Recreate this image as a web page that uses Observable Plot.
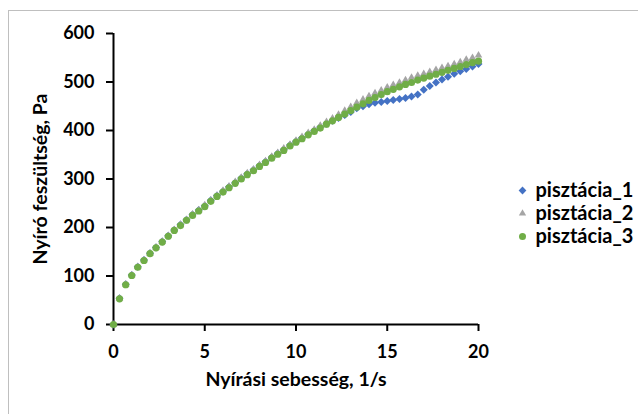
<!DOCTYPE html>
<html>
<head>
<meta charset="utf-8">
<script src="https://cdn.jsdelivr.net/npm/d3@7"></script>
<script src="https://cdn.jsdelivr.net/npm/@observablehq/plot@0.6"></script>
<style>
  html, body { margin: 0; padding: 0; background: #fff; }
  #wrap { position: relative; width: 638px; height: 414px; overflow: hidden; }
  #frame { position: absolute; left: 8px; top: 10px; width: 640px; height: 420px; border: 1px solid #BFBFBF; box-sizing: border-box; pointer-events: none; }
  #chart { position: absolute; left: 0; top: 0; }
  #legend { position: absolute; left: 510px; top: 160px; }
</style>
</head>
<body>
<div id="wrap">
  <div id="chart"></div>
  <div id="legend"></div>
  <div id="frame"></div>
</div>
<script>
// Shear rate, 1/s (shared by all three series)
const shearRate = [
  0, 0.33, 0.67, 1, 1.33, 1.67, 2, 2.33, 2.67, 3, 3.33, 3.67, 4, 4.33, 4.67, 5,
  5.33, 5.67, 6, 6.33, 6.67, 7, 7.33, 7.67, 8, 8.33, 8.67, 9, 9.33, 9.67, 10,
  10.33, 10.67, 11, 11.33, 11.67, 12, 12.33, 12.67, 13, 13.33, 13.67, 14, 14.33, 14.67, 15,
  15.33, 15.67, 16, 16.33, 16.67, 17, 17.33, 17.67, 18, 18.33, 18.67, 19, 19.33, 19.67, 20
];
// Shear stress, Pa
const pisztacia1 = [
  0, 54, 83, 102, 119, 133, 147, 159, 171, 183, 195, 206, 216, 227, 236, 245,
  256, 266, 275, 284, 293, 302, 311, 319, 328, 336, 345, 353, 361, 370, 378,
  385, 393, 400, 407, 414, 420, 426, 432, 438, 446, 450, 454, 457, 459, 461,
  463, 465, 467, 470, 474, 484, 492, 499, 505, 511, 517, 522, 527, 532, 537
];
const pisztacia2 = [
  0, 54, 83, 102, 119, 133, 147, 159, 171, 183, 195, 206, 216, 227, 236, 246,
  256, 266, 276, 285, 294, 303, 312, 320, 329, 337, 346, 354, 363, 371, 379,
  387, 395, 402, 410, 418, 425, 433, 441, 449, 457, 464, 471, 477, 483, 489,
  494, 499, 504, 509, 513, 517, 521, 525, 529, 533, 537, 541, 546, 550, 555
];
const pisztacia3 = [
  0, 53, 82, 101, 118, 132, 146, 158, 170, 182, 194, 204, 215, 225, 234, 243,
  254, 264, 273, 282, 291, 300, 309, 317, 326, 334, 343, 351, 359, 368, 376,
  383, 391, 398, 405, 413, 420, 427, 434, 441, 448, 455, 462, 468, 474, 480,
  485, 490, 495, 499, 504, 508, 512, 516, 520, 524, 528, 532, 536, 540, 543
];
const seriesNames = ["pisztácia_1", "pisztácia_2", "pisztácia_3"];
const seriesColors = ["#4472C4", "#A5A5A5", "#70AD47"];
const seriesSymbols = ["diamond2", "triangle2", "circle"];
const xTicks = [0, 5, 10, 15, 20];
const yTicks = [0, 100, 200, 300, 400, 500, 600];
const xTitle = "Nyírási sebesség, 1/s";
const yTitle = "Nyíró feszültség, Pa";

const seriesValues = [pisztacia1, pisztacia2, pisztacia3];
const data = seriesNames.flatMap((name, s) =>
  shearRate.map((x, i) => ({ series: name, x, y: seriesValues[s][i] }))
);

const FONT = "Lato, 'Open Sans', sans-serif";

const chart = Plot.plot({
  width: 638,
  height: 414,
  marginLeft: 113,
  marginRight: 160,
  marginTop: 33,
  marginBottom: 90,
  style: { fontFamily: FONT, fontWeight: "bold", fontSize: "18px", color: "#000", background: "transparent", overflow: "visible" },
  x: { domain: [0, 20] },
  y: { domain: [0, 600] },
  symbol: { domain: seriesNames, range: seriesSymbols },
  color: { domain: seriesNames, range: seriesColors },
  marks: [
    Plot.axisX({ ticks: xTicks, tickSize: 7, tickPadding: 14, strokeWidth: 2, label: null, tickFormat: d3.format("d"), fontSize: 18, fontWeight: "bold" }),
    Plot.axisY({ ticks: yTicks, tickSize: 7, tickPadding: 12, strokeWidth: 2, label: null, tickFormat: d3.format("d"), fontSize: 18, fontWeight: "bold" }),
    Plot.ruleX([0], { strokeWidth: 2, stroke: "#000" }),
    Plot.ruleY([0], { strokeWidth: 2, stroke: "#000" }),
    Plot.dot(data, { x: "x", y: "y", symbol: "series", fill: "series", r: 3.6, stroke: "none" }),
    Plot.text([xTitle], { frameAnchor: "bottom", dy: 61, fontSize: 19.5, fontWeight: "bold" }),
    Plot.text([yTitle], { frameAnchor: "left", dx: -73, rotate: -90, textAnchor: "middle", lineAnchor: "middle", fontSize: 19.5, fontWeight: "bold" })
  ]
});
document.getElementById("chart").appendChild(chart);

const legend = Plot.plot({
  width: 128,
  height: 110,
  margin: 0,
  style: { fontFamily: FONT, fontWeight: "bold", fontSize: "20px", color: "#000", background: "transparent", overflow: "visible" },
  x: { domain: [0, 1], range: [12, 120], axis: null },
  y: { type: "point", domain: seriesNames, range: [18, 88], axis: null },
  symbol: { domain: seriesNames, range: seriesSymbols },
  color: { domain: seriesNames, range: seriesColors },
  marks: [
    Plot.dot(seriesNames, { x: () => 0, y: d => d, symbol: d => d, fill: d => d, r: 3.5, stroke: "none" }),
    Plot.text(seriesNames, { x: () => 0, y: d => d, text: d => d, dx: 13, textAnchor: "start", fontSize: 20, fontWeight: "bold" })
  ]
});
document.getElementById("legend").appendChild(legend);
</script>
</body>
</html>
